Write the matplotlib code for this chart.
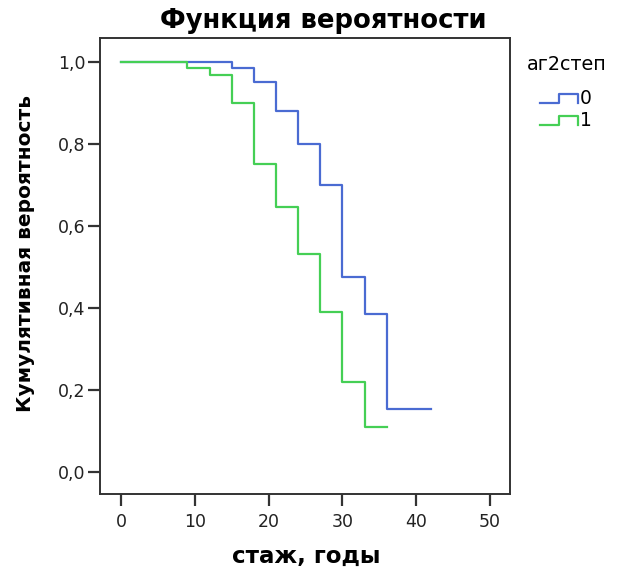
import matplotlib
matplotlib.use("Agg")
import matplotlib.pyplot as plt
from matplotlib.lines import Line2D

plt.rcParams['font.family'] = ['DejaVu Sans']

# Data
groups = ["0", "1"]
legend_title = "аг2степ"
times_0 = [0, 15, 18, 21, 24, 27, 30, 33, 36, 42]
surv_0 = [1.0, 0.985, 0.95, 0.88, 0.80, 0.70, 0.476, 0.385, 0.154, 0.154]
times_1 = [0, 9, 12, 15, 18, 21, 24, 27, 30, 33, 36]
surv_1 = [1.0, 0.985, 0.968, 0.90, 0.75, 0.647, 0.531, 0.391, 0.22, 0.11, 0.11]
xticks = [0, 10, 20, 30, 40, 50]
yticks = [0.0, 0.2, 0.4, 0.6, 0.8, 1.0]
ytick_labels = ["0,0", "0,2", "0,4", "0,6", "0,8", "1,0"]
colors = ["#4a6bd2", "#45cf55"]

W, H = 625, 573
fig = plt.figure(figsize=(W / 100, H / 100), dpi=100)
ax = fig.add_axes([100 / W, 1 - 494 / H, 410 / W, 456 / H])

ax.step(times_0, surv_0, where='post', color=colors[0], lw=1.6)
ax.step(times_1, surv_1, where='post', color=colors[1], lw=1.6)

ax.set_xlim(-2.85, 52.7)
ax.set_ylim(-0.0537, 1.0585)
ax.set_xticks(xticks)
ax.set_yticks(yticks)
ax.set_yticklabels(ytick_labels)
for s in ax.spines.values():
    s.set_color("#333333")
    s.set_linewidth(1.4)
ax.tick_params(axis='both', direction='out', length=8.5, width=1.6,
               color="#333333", labelsize=12.5, labelcolor="#222222")
ax.tick_params(axis='x', pad=5)
ax.tick_params(axis='y', pad=2)

fig.text(323 / W, 1 - 21 / H, "Функция вероятности", ha='center',
         va='center', fontsize=18.6, fontweight='bold')
fig.text(306 / W, 1 - 556 / H, "стаж, годы", ha='center', va='center',
         fontsize=16.5, fontweight='bold')
fig.text(26 / W, 1 - 254 / H, "Кумулятивная вероятность", ha='center',
         va='center', rotation=90, fontsize=14.5, fontweight='bold')

# Legend (step-shaped symbols, drawn in figure pixel coordinates)
fig.text(527 / W, 1 - 65 / H, legend_title, ha='left', va='center',
         fontsize=13.8)
entry_y = [98, 120]
for lab, col, yc in zip(groups, colors, entry_y):
    lo = yc + 5
    hi = yc - 4
    xs = [540, 559, 559, 578, 578]
    ys = [lo, lo, hi, hi, lo]
    fig.add_artist(Line2D([x / W for x in xs], [1 - y / H for y in ys],
                          transform=fig.transFigure, color=col, lw=1.6))
    fig.text(580 / W, 1 - (yc + 1) / H, lab, ha='left', va='center',
             fontsize=13.5)

fig.savefig("out.png", dpi=100)
